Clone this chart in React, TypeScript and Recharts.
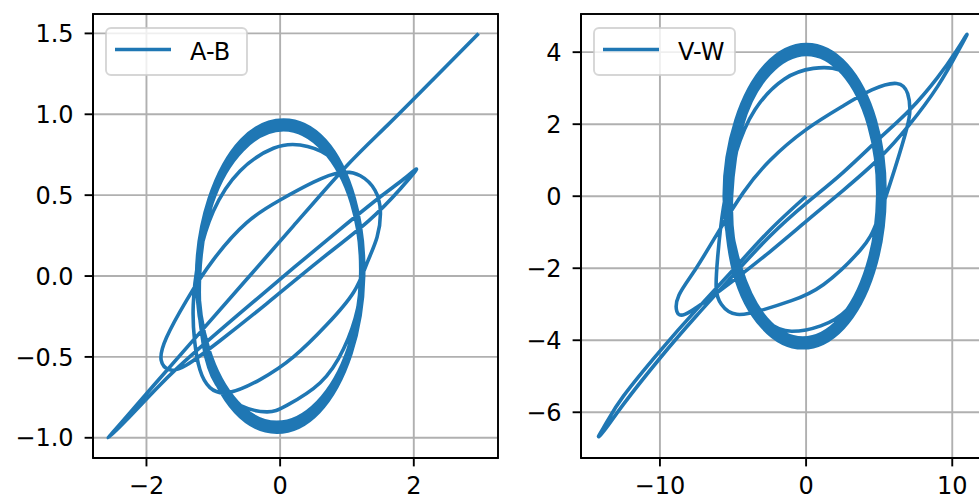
import React from "react";
import { LineChart, Line, XAxis, YAxis, CartesianGrid } from "recharts";

// A-B: start-up swings along the diagonal, then the laps that settle into the cycle
const abTransient: [number, number][] = [
  [2.97, 1.5], [2.3, 1.22], [1.6, 0.93], [0.97, 0.67], [0.2, 0.31], [-0.5, -0.02],
  [-1.2, -0.35], [-1.9, -0.68], [-2.35, -0.895], [-2.57, -1.0],
  [-2.3, -0.89], [-1.79, -0.67], [-1.3, -0.48], [-0.6, -0.23], [0.2, 0.05], [0.9, 0.29],
  [1.5, 0.49], [1.85, 0.6], [2.04, 0.66],
  [1.8, 0.54], [1.32, 0.34], [0.6, 0.1], [-0.2, -0.17], [-0.9, -0.4], [-1.4, -0.55],
  [-1.65, -0.58], [-1.78, -0.52],
  [-1.7, -0.38], [-1.4, -0.15], [-1.0, 0.1], [-0.5, 0.33], [0, 0.47], [0.5, 0.58],
  [0.9, 0.64], [1.2, 0.62], [1.42, 0.53], [1.5, 0.4],
  [1.45, 0.24], [1.3, 0.08], [1.1, -0.1], [0.7, -0.3], [0.2, -0.5], [-0.3, -0.64],
  [-0.77, -0.72], [-1.05, -0.69], [-1.2, -0.58],
  [-1.28, -0.4], [-1.3, -0.18], [-1.22, 0.1], [-1.0, 0.4], [-0.6, 0.65], [-0.1, 0.79],
  [0.3, 0.81], [0.7, 0.75], [1.0, 0.6], [1.18, 0.35], [1.23, 0.08],
  [1.16, -0.2], [0.95, -0.45], [0.6, -0.66], [0.1, -0.8], [-0.2, -0.84], [-0.6, -0.8],
  [-0.95, -0.67], [-1.15, -0.42],
];

// A-B limit cycle, four laps from the inner edge of the band to the outer one
const abCycle: [number, number][] = [
  [-1.205, 0], [-1.02, 0.45], [-0.56, 0.78], [0.05, 0.905], [0.64, 0.78], [1.07, 0.45],
  [1.205, 0], [1.02, -0.45], [0.56, -0.78], [-0.05, -0.905], [-0.64, -0.78], [-1.07, -0.45],
  [-1.22, 0], [-1.03, 0.46], [-0.57, 0.8], [0.05, 0.925], [0.65, 0.8], [1.08, 0.46],
  [1.22, 0], [1.03, -0.46], [0.57, -0.8], [-0.05, -0.925], [-0.65, -0.8], [-1.08, -0.46],
  [-1.235, 0], [-1.05, 0.47], [-0.58, 0.82], [0.05, 0.945], [0.66, 0.82], [1.09, 0.47],
  [1.235, 0], [1.05, -0.47], [0.58, -0.82], [-0.05, -0.945], [-0.66, -0.82], [-1.09, -0.47],
  [-1.25, 0], [-1.06, 0.48], [-0.58, 0.84], [0.05, 0.965], [0.67, 0.84], [1.11, 0.48],
  [1.25, 0], [1.06, -0.48], [0.58, -0.84], [-0.05, -0.965], [-0.67, -0.84], [-1.11, -0.48],
  [-1.25, 0],
];

// V-W: same run, second pair of states
const vwTransient: [number, number][] = [
  [0, 0], [-2.5, -0.95], [-5, -2.05], [-7.5, -3.15], [-10, -4.3], [-12.5, -5.55],
  [-13.6, -6.25], [-14.2, -6.67],
  [-13.7, -6.45], [-12.5, -5.78], [-10, -4.5], [-7.5, -3.32], [-5, -2.2], [-2.5, -1.12],
  [0, -0.2], [2.5, 0.65], [5.06, 1.62], [7.1, 2.4], [9.0, 3.3], [10.3, 4.05], [11, 4.49],
  [10.5, 4.1], [9.0, 3.05], [7, 1.95], [5, 1.05], [2.5, 0.15], [0, -0.7], [-2.5, -1.55],
  [-5, -2.35], [-7, -2.95], [-8.3, -3.28], [-8.84, -3.2],
  [-8.7, -2.75], [-7.6, -2.05], [-6.0, -0.99], [-4.3, 0.1], [-2.46, 1.0], [0, 1.85],
  [2.5, 2.5], [4.5, 2.95], [6.2, 3.13], [6.95, 2.85], [7.1, 2.4],
  [6.9, 1.9], [6.1, 0.8], [4.9, -0.65], [3.7, -1.5], [1.2, -2.45], [-1.0, -2.9],
  [-2.9, -3.15], [-4.74, -3.28], [-5.8, -3.0], [-6.15, -2.55],
  [-6.05, -1.7], [-5.65, -0.3], [-4.8, 1.2], [-3.5, 2.4], [-1.5, 3.25], [0.5, 3.55],
  [2.3, 3.5], [3.7, 3.0], [4.6, 2.1], [5.0, 1.0], [5.1, -0.1],
  [4.85, -1.2], [4.1, -2.3], [2.8, -3.15], [1, -3.6], [-1.0, -3.75], [-2.6, -3.5],
  [-4.2, -2.6], [-4.95, -1.3],
];

const vwCycle: [number, number][] = [
  [-5.1, 0], [-4.37, 1.97], [-2.5, 3.41], [0.02, 3.94], [2.5, 3.41], [4.29, 1.97],
  [4.9, 0], [4.17, -1.97], [2.3, -3.41], [-0.22, -3.94], [-2.7, -3.41], [-4.49, -1.97],
  [-5.27, 0], [-4.52, 2.02], [-2.58, 3.49], [0.02, 4.03], [2.59, 3.49], [4.44, 2.02],
  [5.07, 0], [4.32, -2.02], [2.38, -3.49], [-0.22, -4.03], [-2.79, -3.49], [-4.64, -2.02],
  [-5.44, 0], [-4.66, 2.06], [-2.66, 3.57], [0.02, 4.12], [2.68, 3.57], [4.59, 2.06],
  [5.24, 0], [4.46, -2.06], [2.46, -3.57], [-0.22, -4.12], [-2.88, -3.57], [-4.79, -2.06],
  [-5.6, 0], [-4.8, 2.11], [-2.74, 3.65], [0.03, 4.21], [2.76, 3.65], [4.73, 2.11],
  [5.4, 0], [4.6, -2.11], [2.54, -3.65], [-0.23, -4.21], [-2.96, -3.65], [-4.93, -2.11],
  [-5.6, 0],
];

const abTicksX = [-2, 0, 2];
const abTicksY = [-1, -0.5, 0, 0.5, 1, 1.5];
const vwTicksX = [-10, 0, 10];
const vwTicksY = [-6, -4, -2, 0, 2, 4];

const BLUE = "#1f77b4";
const FONT = "'DejaVu Sans', sans-serif";
const FS = 24;
const SPINE = { stroke: "#000", strokeWidth: 1.9 };

const toRows = (pts: [number, number][]) => pts.map(([x, y]) => ({ x, y }));
const fmt = (v: number, digits: number) => v.toFixed(digits).replace("-", "\u2212");

const makeXTick = (digits: number) => (props: any) => (
  <text x={props.x} y={props.y + 27.6} textAnchor="middle" fontFamily={FONT} fontSize={FS} fill="#000">
    {fmt(props.payload.value, digits)}
  </text>
);

const makeYTick = (digits: number) => (props: any) => (
  <text x={props.x - 11} y={props.y + 8.7} textAnchor="end" fontFamily={FONT} fontSize={FS} fill="#000">
    {fmt(props.payload.value, digits)}
  </text>
);

type PanelProps = {
  data: { x: number; y: number }[];
  left: number;
  width: number;
  yAxisWidth: number;
  marginRight: number;
  xDomain: [number, number];
  yDomain: [number, number];
  xTicks: number[];
  yTicks: number[];
  yDigits: number;
};

const Panel = ({ data, left, width, yAxisWidth, marginRight, xDomain, yDomain, xTicks, yTicks, yDigits }: PanelProps) => (
  <div style={{ position: "absolute", left, top: 0 }}>
    <LineChart width={width} height={500} data={data} margin={{ top: 14, right: marginRight, bottom: 0, left: 0 }}>
      <CartesianGrid stroke="#b0b0b0" strokeWidth={1.9} />
      <XAxis
        dataKey="x"
        type="number"
        domain={xDomain}
        ticks={xTicks}
        allowDataOverflow
        height={42}
        tickSize={8.4}
        tickMargin={0}
        axisLine={SPINE}
        tickLine={SPINE}
        tick={makeXTick(0)}
      />
      <YAxis
        type="number"
        domain={yDomain}
        ticks={yTicks}
        allowDataOverflow
        width={yAxisWidth}
        tickSize={8.4}
        tickMargin={0}
        axisLine={SPINE}
        tickLine={SPINE}
        tick={makeYTick(yDigits)}
      />
      <Line
        dataKey="y"
        type="natural"
        stroke={BLUE}
        strokeWidth={3.6}
        strokeLinejoin="round"
        dot={false}
        activeDot={false}
        isAnimationActive={false}
      />
    </LineChart>
  </div>
);

const LegendBox = ({ x, label }: { x: number; label: string }) => (
  <g>
    <rect x={x} y={28} width={141} height={47} rx={5} fill="#fff" fillOpacity={0.8} stroke="#cccccc" strokeOpacity={0.8} strokeWidth={1.9} />
    <line x1={x + 9} x2={x + 65} y1={49.5} y2={49.5} stroke={BLUE} strokeWidth={3.6} />
    <text x={x + 84} y={60} fontFamily={FONT} fontSize={FS} fill="#000">
      {label}
    </text>
  </g>
);

export default function App() {
  const abData = toRows([...abTransient, ...abCycle]);
  const vwData = toRows([...vwTransient, ...vwCycle]);
  return (
    <div style={{ position: "absolute", left: 0, top: 0, width: 979, height: 500, overflow: "hidden", background: "#fff" }}>
      <Panel
        data={abData}
        left={0}
        width={520}
        yAxisWidth={93}
        marginRight={22}
        xDomain={[-2.8, 3.26]}
        yDomain={[-1.125, 1.62]}
        xTicks={abTicksX}
        yTicks={abTicksY}
        yDigits={1}
      />
      <Panel
        data={vwData}
        left={500}
        width={500}
        yAxisWidth={81}
        marginRight={15}
        xDomain={[-15.4, 12.24]}
        yDomain={[-7.27, 5.06]}
        xTicks={vwTicksX}
        yTicks={vwTicksY}
        yDigits={0}
      />
      <svg width={979} height={500} style={{ position: "absolute", left: 0, top: 0, pointerEvents: "none" }}>
        {/* axes frames (spines) */}
        <rect x={93} y={14} width={405} height={444} fill="none" stroke="#000" strokeWidth={1.9} />
        <rect x={581} y={14} width={404} height={444} fill="none" stroke="#000" strokeWidth={1.9} />
        <LegendBox x={106} label="A-B" />
        <LegendBox x={594} label="V-W" />
      </svg>
    </div>
  );
}
